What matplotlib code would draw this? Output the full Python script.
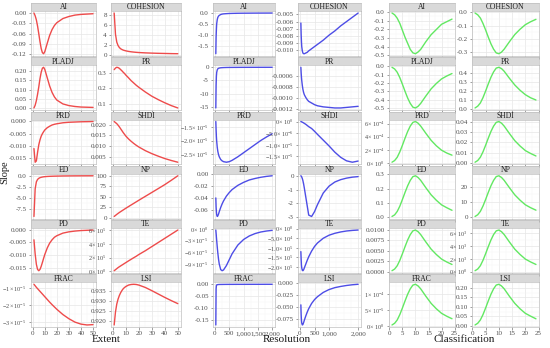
import matplotlib
matplotlib.use("Agg")
import matplotlib.pyplot as plt
from matplotlib.ticker import FixedLocator, AutoMinorLocator
import numpy as np

plt.rcParams["font.family"] = ["Liberation Serif", "DejaVu Serif"]
plt.rcParams["mathtext.fontset"] = "custom"
plt.rcParams["mathtext.rm"] = "Liberation Serif"
plt.rcParams["mathtext.it"] = "Liberation Serif:italic"
plt.rcParams["mathtext.bf"] = "Liberation Serif:bold"

METRICS = ["AI", "COHESION", "PLADJ", "PR", "PRD", "SHDI",
           "ED", "NP", "PD", "TE", "FRAC", "LSI"]

# ---- Extent -------------------------------------------------------------
EXT_X = [1, 2, 3, 4, 5, 6, 7, 8, 9, 10, 12, 14, 16, 18, 20, 25, 30, 35, 40, 45, 50]
EXT_AI = [0.0, -0.008, -0.02, -0.038, -0.06, -0.083, -0.103, -0.115, -0.118, -0.112, -0.088,
          -0.065, -0.048, -0.036, -0.028, -0.016, -0.01, -0.006, -0.004, -0.003, -0.002]
EXT_COHESION = [8.5, 4.2, 2.6, 1.9, 1.5, 1.25, 1.1, 0.98, 0.9, 0.83, 0.72,
                0.64, 0.58, 0.53, 0.49, 0.42, 0.37, 0.33, 0.3, 0.27, 0.25]
EXT_PLADJ = [0.0, 0.015, 0.04, 0.075, 0.115, 0.16, 0.195, 0.217, 0.222, 0.21, 0.165,
             0.12, 0.085, 0.06, 0.043, 0.022, 0.013, 0.008, 0.005, 0.004, 0.003]
EXT_PR = [0.32, 0.33, 0.335, 0.333, 0.328, 0.32, 0.312, 0.303, 0.295, 0.285, 0.268,
          0.25, 0.235, 0.22, 0.207, 0.177, 0.15, 0.128, 0.108, 0.09, 0.075]
EXT_PRD = [-0.011, -0.0165, -0.016, -0.0125, -0.0095, -0.0075, -0.006, -0.005, -0.0042, -0.0035,
           -0.0026, -0.002, -0.0015, -0.0012, -0.001, -0.0006, -0.0004, -0.0003, -0.0002,
           -0.00015, -0.0001]
EXT_SHDI = [0.0215, 0.021, 0.0205, 0.0198, 0.019, 0.0181, 0.0172, 0.0163, 0.0155, 0.0147,
            0.0134, 0.0123, 0.0113, 0.0104, 0.0096, 0.0079, 0.0065, 0.0053, 0.0042, 0.0033, 0.0025]
EXT_ED = [-9.3, -3.0, -1.4, -0.85, -0.6, -0.45, -0.36, -0.3, -0.25, -0.22, -0.17,
          -0.14, -0.12, -0.1, -0.09, -0.06, -0.045, -0.035, -0.028, -0.022, -0.018]
EXT_NP = [3, 5.5, 8, 10.3, 12.5, 14.6, 16.6, 18.6, 20.6, 22.6, 26.5,
          30.3, 34.1, 37.9, 41.7, 51, 60.3, 69.6, 79, 89.3, 100]
EXT_PD = [-0.004, -0.0095, -0.0135, -0.0155, -0.016, -0.0155, -0.0143, -0.0128, -0.0112, -0.0097,
          -0.0072, -0.0053, -0.004, -0.003, -0.0024, -0.0014, -0.0009, -0.0006, -0.0004,
          -0.0003, -0.0002]
EXT_TE = [0.1e5, 0.25e5, 0.4e5, 0.55e5, 0.68e5, 0.8e5, 0.92e5, 1.04e5, 1.16e5, 1.28e5, 1.52e5,
          1.75e5, 1.98e5, 2.2e5, 2.45e5, 3.0e5, 3.6e5, 4.2e5, 4.8e5, 5.4e5, 6.0e5]
EXT_FRAC = [-0.75e-5, -0.84e-5, -0.93e-5, -1.01e-5, -1.09e-5, -1.17e-5, -1.25e-5, -1.33e-5,
            -1.41e-5, -1.49e-5, -1.65e-5, -1.81e-5, -1.96e-5, -2.1e-5, -2.24e-5, -2.55e-5,
            -2.8e-5, -3.0e-5, -3.12e-5, -3.17e-5, -3.15e-5]
EXT_LSI = [0.918, 0.9245, 0.9285, 0.931, 0.9328, 0.9342, 0.9353, 0.9362, 0.9368, 0.9373, 0.938,
           0.9383, 0.9384, 0.9383, 0.938, 0.9368, 0.9352, 0.9335, 0.9318, 0.9302, 0.9287]
EXT_YTICKS = [[-0.12, -0.09, -0.06, -0.03, 0.0], [0, 2, 4, 6, 8],
              [0.0, 0.05, 0.1, 0.15, 0.2], [0.1, 0.2, 0.3],
              [-0.015, -0.01, -0.005, 0.0], [0.005, 0.01, 0.015, 0.02],
              [-7.5, -5.0, -2.5, 0.0], [0, 25, 50, 75, 100],
              [-0.015, -0.01, -0.005, 0.0], [0, 2e5, 4e5, 6e5],
              [-3e-5, -2e-5, -1e-5], [0.92, 0.925, 0.93, 0.935]]
EXT_SCI = ["TE", "FRAC"]
EXT_XTICKS = [[0, 10, 20, 30, 40, 50], [0, 10, 20, 30, 40, 50]]

# ---- Resolution ---------------------------------------------------------
RES_X = [30, 40, 50, 60, 80, 100, 125, 150, 200, 250, 300, 400, 500, 600, 800,
         1000, 1200, 1400, 1600, 1800, 2000]
RES_AI = [-1.85, -1.1, -0.75, -0.5, -0.3, -0.2, -0.14, -0.11, -0.07, -0.05, -0.04, -0.03,
          -0.022, -0.018, -0.012, -0.009, -0.007, -0.005, -0.004, -0.003, -0.002]
RES_COHESION = [-0.0062, -0.0078, -0.0088, -0.0095, -0.0101, -0.0104, -0.0105, -0.0105, -0.0104,
                -0.0103, -0.0101, -0.0098, -0.0095, -0.0092, -0.0086, -0.0079, -0.0073,
                -0.0066, -0.006, -0.0054, -0.0048]
RES_PLADJ = [-15.5, -7, -3.5, -2, -1, -0.6, -0.4, -0.3, -0.2, -0.15, -0.12, -0.08,
             -0.06, -0.05, -0.035, -0.025, -0.02, -0.016, -0.013, -0.01, -0.008]
RES_PR = [-0.00045, -0.00055, -0.00063, -0.00069, -0.00078, -0.00085, -0.00091, -0.00095,
          -0.001, -0.00104, -0.00107, -0.0011, -0.00113, -0.00115, -0.00117, -0.00118,
          -0.00119, -0.00119, -0.00118, -0.00117, -0.00116]
RES_PRD = [-1.3e-5, -1.6e-5, -1.85e-5, -2.02e-5, -2.25e-5, -2.4e-5, -2.52e-5, -2.6e-5, -2.7e-5,
           -2.75e-5, -2.78e-5, -2.8e-5, -2.78e-5, -2.73e-5, -2.6e-5, -2.45e-5, -2.3e-5,
           -2.15e-5, -2.0e-5, -1.87e-5, -1.75e-5]
RES_SHDI = [0.0, -0.005e-5, -0.01e-5, -0.015e-5, -0.03e-5, -0.04e-5, -0.06e-5, -0.08e-5,
            -0.12e-5, -0.17e-5, -0.22e-5, -0.3e-5, -0.42e-5, -0.55e-5, -0.8e-5, -1.05e-5,
            -1.32e-5, -1.54e-5, -1.69e-5, -1.75e-5, -1.7e-5]
RES_ED = [-0.04, -0.055, -0.063, -0.068, -0.071, -0.07, -0.067, -0.063, -0.056, -0.05, -0.045,
          -0.037, -0.031, -0.026, -0.019, -0.014, -0.01, -0.0075, -0.0055, -0.004, -0.003]
RES_NP = [0.0, -0.02, -0.05, -0.09, -0.2, -0.35, -0.6, -0.9, -1.55, -2.2, -2.85, -2.95,
          -2.6, -2.1, -1.25, -0.75, -0.45, -0.28, -0.17, -0.1, -0.06]
RES_PD = [-0.3e-5, -1.1e-5, -2.0e-5, -2.9e-5, -4.6e-5, -6.1e-5, -7.7e-5, -8.9e-5, -10.3e-5,
          -10.6e-5, -10.4e-5, -9.3e-5, -7.8e-5, -6.3e-5, -4.1e-5, -2.7e-5, -1.8e-5, -1.2e-5,
          -0.8e-5, -0.55e-5, -0.38e-5]
RES_TE = [-1.2e5, -1.6e5, -1.9e5, -2.05e5, -2.18e5, -2.2e5, -2.15e5, -2.05e5, -1.85e5, -1.65e5,
          -1.47e5, -1.17e5, -0.93e5, -0.75e5, -0.5e5, -0.34e5, -0.24e5, -0.17e5, -0.12e5,
          -0.09e5, -0.07e5]
RES_FRAC = [-0.17, -0.02, -0.006, -0.003, -0.002, -0.0015, -0.0012, -0.001, -0.0009, -0.0008,
            -0.0007, -0.0006, -0.0005, -0.0005, -0.0004, -0.0004, -0.0003, -0.0003, -0.0003,
            -0.0002, -0.0002]
RES_LSI = [-0.045, -0.065, -0.077, -0.083, -0.087, -0.086, -0.082, -0.077, -0.068, -0.06,
           -0.053, -0.042, -0.034, -0.028, -0.019, -0.013, -0.009, -0.0065, -0.0045, -0.003, -0.002]
RES_YTICKS = [[-1.5, -1.0, -0.5, 0.0], [-0.010, -0.009, -0.008, -0.007, -0.006, -0.005],
              [-15, -10, -5, 0], [-0.0012, -0.0010, -0.0008, -0.0006],
              [-2.5e-5, -2.0e-5, -1.5e-5], [-1.5e-5, -1.0e-5, -5e-6, 0],
              [-0.06, -0.04, -0.02, 0.0], [-3, -2, -1, 0],
              [-9e-5, -6e-5, -3e-5, 0], [-2.0e5, -1.5e5, -1.0e5, -5e4, 0],
              [-0.15, -0.10, -0.05, 0.0], [-0.075, -0.05, -0.025, 0.0]]
RES_SCI = ["PRD", "SHDI", "PD", "TE"]
RES_XTICKS = [[0, 500, 1000, 1500, 2000], [0, 500, 1000, 2000]]

# ---- Classification -----------------------------------------------------
CLS_X = [1, 2, 3, 4, 5, 6, 7, 8, 9, 10, 11, 12, 14, 16, 18, 20, 22, 24]
CLS_AI = [-0.01, -0.03, -0.07, -0.13, -0.21, -0.29, -0.36, -0.43, -0.47, -0.48, -0.46, -0.43,
          -0.34, -0.26, -0.2, -0.14, -0.11, -0.08]
CLS_COHESION = [-0.006, -0.019, -0.043, -0.084, -0.133, -0.186, -0.236, -0.276, -0.304, -0.31,
                -0.298, -0.276, -0.22, -0.167, -0.127, -0.093, -0.071, -0.053]
CLS_PLADJ = [-0.01, -0.03, -0.07, -0.135, -0.215, -0.3, -0.38, -0.445, -0.49, -0.5, -0.48,
             -0.445, -0.355, -0.27, -0.205, -0.15, -0.115, -0.085]
CLS_PR = [0.01, 0.03, 0.066, 0.127, 0.202, 0.282, 0.357, 0.418, 0.461, 0.47, 0.455, 0.425,
          0.345, 0.27, 0.21, 0.16, 0.125, 0.1]
CLS_PRD = [0.13e-4, 0.38e-4, 0.88e-4, 1.7e-4, 2.71e-4, 3.78e-4, 4.79e-4, 5.61e-4, 6.17e-4,
           6.3e-4, 6.05e-4, 5.61e-4, 4.5e-4, 3.45e-4, 2.62e-4, 1.95e-4, 1.52e-4, 1.2e-4]
CLS_SHDI = [0.0008, 0.0024, 0.0056, 0.0108, 0.0172, 0.024, 0.0304, 0.0356, 0.0392, 0.04,
            0.0384, 0.0356, 0.0284, 0.0216, 0.0164, 0.012, 0.0092, 0.0068]
CLS_ED = [0.006, 0.017, 0.041, 0.078, 0.125, 0.174, 0.22, 0.258, 0.284, 0.29, 0.278, 0.258,
          0.206, 0.157, 0.119, 0.087, 0.067, 0.049]
CLS_NP = [0.5, 1.6, 3.8, 7.3, 11.6, 16.2, 20.5, 24.0, 26.5, 27, 25.9, 24.0, 19.2, 14.6, 11.1,
          8.1, 6.2, 4.6]
CLS_PD = [0.0002, 0.0006, 0.0014, 0.0027, 0.0043, 0.006, 0.0076, 0.0089, 0.0098, 0.01, 0.0096,
          0.0089, 0.0071, 0.0054, 0.0041, 0.003, 0.0023, 0.0017]
CLS_TE = [0.13e3, 0.39e3, 0.91e3, 1.76e3, 2.8e3, 3.9e3, 4.94e3, 5.79e3, 6.37e3, 6.5e3, 6.24e3,
          5.79e3, 4.62e3, 3.51e3, 2.67e3, 1.95e3, 1.5e3, 1.11e3]
CLS_FRAC = [0.026e-4, 0.078e-4, 0.182e-4, 0.351e-4, 0.559e-4, 0.78e-4, 0.988e-4, 1.157e-4,
            1.274e-4, 1.3e-4, 1.248e-4, 1.157e-4, 0.923e-4, 0.702e-4, 0.533e-4, 0.39e-4,
            0.299e-4, 0.221e-4]
CLS_LSI = [0.0044, 0.0132, 0.0308, 0.0594, 0.0946, 0.132, 0.167, 0.196, 0.216, 0.22, 0.211,
           0.196, 0.156, 0.119, 0.09, 0.066, 0.051, 0.037]
CLS_YTICKS = [[-0.5, -0.4, -0.3, -0.2, -0.1, 0.0], [-0.3, -0.2, -0.1, 0.0],
              [-0.5, -0.4, -0.3, -0.2, -0.1, 0.0], [0.0, 0.1, 0.2, 0.3, 0.4],
              [0, 2e-4, 4e-4, 6e-4], [0.0, 0.01, 0.02, 0.03, 0.04],
              [0.0, 0.1, 0.2, 0.3], [0, 10, 20],
              [0.0, 0.0025, 0.005, 0.0075, 0.01], [0, 2e3, 4e3, 6e3],
              [0, 5e-5, 1e-4], [0.0, 0.05, 0.1, 0.15, 0.2]]
CLS_SCI = ["PRD", "TE", "FRAC"]
CLS_XTICKS = [[0, 5, 10, 15, 20, 25], [0, 5, 10, 15, 20, 25]]

EXT_Y = [EXT_AI, EXT_COHESION, EXT_PLADJ, EXT_PR, EXT_PRD, EXT_SHDI,
         EXT_ED, EXT_NP, EXT_PD, EXT_TE, EXT_FRAC, EXT_LSI]
RES_Y = [RES_AI, RES_COHESION, RES_PLADJ, RES_PR, RES_PRD, RES_SHDI,
         RES_ED, RES_NP, RES_PD, RES_TE, RES_FRAC, RES_LSI]
CLS_Y = [CLS_AI, CLS_COHESION, CLS_PLADJ, CLS_PR, CLS_PRD, CLS_SHDI,
         CLS_ED, CLS_NP, CLS_PD, CLS_TE, CLS_FRAC, CLS_LSI]

W, H = 550, 348
GROUPS = [
    ("Extent", EXT_X, EXT_Y, EXT_YTICKS, EXT_SCI, EXT_XTICKS, "#EE4B4B", (31, 96, 111, 181)),
    ("Resolution", RES_X, RES_Y, RES_YTICKS, RES_SCI, RES_XTICKS, "#4D4DE6", (213, 275, 298, 361)),
    ("Classification", CLS_X, CLS_Y, CLS_YTICKS, CLS_SCI, CLS_XTICKS, "#62E862", (389, 455, 472, 539)),
]


def n_decimals(vals):
    scale = max([abs(v) for v in vals] + [1e-300])
    for d in range(0, 10):
        if all(abs(float(f"{v:.{d}f}") - v) <= 1e-9 * scale for v in vals):
            return d
    return 10


def plain_labels(ticks):
    d = n_decimals(ticks)
    return [f"{v:.{d}f}" for v in ticks]


def sci_labels(ticks):
    nz = [t for t in ticks if t != 0]
    exps = [int(np.floor(np.log10(abs(t)) + 1e-9)) for t in nz]
    d = n_decimals([t / 10.0 ** e for t, e in zip(nz, exps)])
    out = []
    for t in ticks:
        if t == 0:
            out.append(r"$0\times10^{0}$")
        else:
            e = int(np.floor(np.log10(abs(t)) + 1e-9))
            m = t / 10.0 ** e
            out.append(rf"${m:.{d}f}\times10^{{{e}}}$")
    return out


fig = plt.figure(figsize=(W / 100, H / 100), dpi=100)

TOP, BOTTOM, STRIP, GAP = 3.0, 327.0, 8.0, 1.5
pitch = (BOTTOM - TOP + GAP) / 6
panel_h = pitch - GAP - STRIP

for name, xs, ys, yticks, sci, xticks, color, cols in GROUPS:
    span = xs[-1] - xs[0]
    xlim = (xs[0] - 0.05 * span, xs[-1] + 0.05 * span)
    for k, metric in enumerate(METRICS):
        row, col = divmod(k, 2)
        x0, x1 = cols[2 * col], cols[2 * col + 1]
        s_top = TOP + row * pitch
        p_top = s_top + STRIP
        p_bot = p_top + panel_h

        sax = fig.add_axes([x0 / W, 1 - p_top / H, (x1 - x0) / W, STRIP / H])
        sax.set_facecolor("#D9D9D9")
        sax.set_xticks([])
        sax.set_yticks([])
        for sp in sax.spines.values():
            sp.set_color("#BFBFBF")
            sp.set_linewidth(0.5)
        sax.text(0.5, 0.45, metric, transform=sax.transAxes, ha="center", va="center",
                 fontsize=5.5, color="#1A1A1A")

        ax = fig.add_axes([x0 / W, 1 - p_bot / H, (x1 - x0) / W, panel_h / H])
        y = ys[k]
        ax.plot(xs, y, color=color, lw=1.0, solid_capstyle="round", zorder=3)
        lo, hi = min(y), max(y)
        pad = (hi - lo) * 0.05
        ax.set_ylim(lo - pad, hi + pad)
        ax.set_xlim(*xlim)

        yt = yticks[k]
        ax.yaxis.set_major_locator(FixedLocator(yt))
        if metric in sci:
            ax.set_yticklabels(sci_labels(yt), fontsize=4.4)
        else:
            ax.set_yticklabels(plain_labels(yt), fontsize=5)
        xt = xticks[col]
        ax.xaxis.set_major_locator(FixedLocator(xt))
        ax.xaxis.set_minor_locator(AutoMinorLocator(2))
        ax.yaxis.set_minor_locator(AutoMinorLocator(2))
        if row == 5:
            ax.set_xticklabels([f"{v:,}" for v in xt], fontsize=5)
        else:
            ax.tick_params(axis="x", labelbottom=False)

        ax.grid(which="major", color="#E6E6E6", lw=0.5, zorder=0)
        ax.grid(which="minor", color="#F3F3F3", lw=0.3, zorder=0)
        ax.set_axisbelow(True)
        ax.tick_params(which="major", length=1.8, width=0.4, pad=1.2,
                       color="#555555", labelcolor="#4D4D4D")
        ax.tick_params(which="minor", length=0)
        for sp in ax.spines.values():
            sp.set_color("#BFBFBF")
            sp.set_linewidth(0.5)

    cx = (cols[0] + cols[3]) / 2
    fig.text(cx / W, 1 - 340 / H, name, ha="center", va="center", fontsize=8, color="#1A1A1A")

fig.text(5 / W, 1 - 172 / H, "Slope", rotation=90, ha="center", va="center",
         fontsize=7.5, color="#1A1A1A")

fig.savefig("out.png", dpi=100)
